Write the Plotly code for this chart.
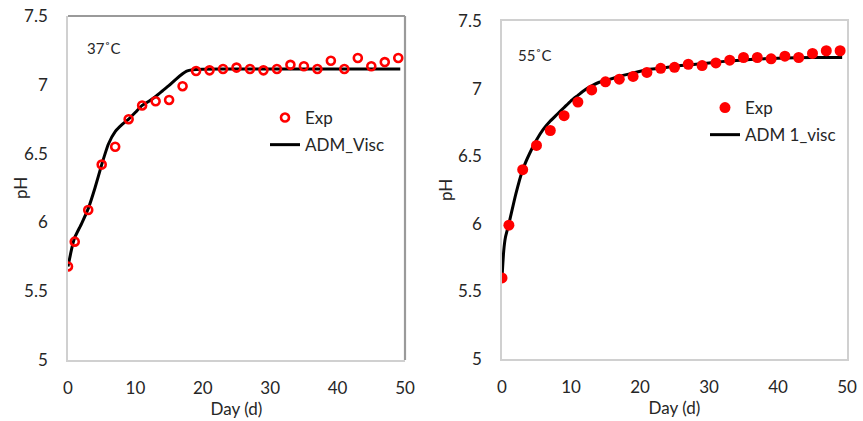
import plotly.graph_objects as go

# ---------------- data ----------------
exp_days = [0, 1, 3, 5, 7, 9, 11, 13, 15, 17, 19, 21, 23, 25, 27, 29, 31, 33, 35, 37, 39, 41, 43, 45, 47, 49]

ph37_exp = [5.68, 5.86, 6.09, 6.42, 6.55, 6.75, 6.85, 6.88, 6.89, 6.99, 7.10, 7.105, 7.115, 7.125, 7.115,
            7.105, 7.115, 7.145, 7.135, 7.115, 7.175, 7.115, 7.195, 7.135, 7.165, 7.195]

model37_days = [0, 0.6, 1, 2, 3, 4, 5, 6, 7, 8, 9, 10, 11, 12, 13, 14, 15, 16, 17, 17.6, 18.5, 20, 25, 30, 35, 40, 45, 49.3]
ph37_model = [5.68, 5.82, 5.89, 5.99, 6.10, 6.25, 6.42, 6.57, 6.66, 6.71, 6.75, 6.80, 6.85, 6.88, 6.915, 6.955,
              6.995, 7.04, 7.08, 7.10, 7.11, 7.113, 7.115, 7.115, 7.115, 7.115, 7.115, 7.115]

ph55_exp = [5.60, 5.99, 6.40, 6.58, 6.69, 6.80, 6.90, 6.99, 7.05, 7.07, 7.09, 7.12, 7.15, 7.157, 7.18,
            7.17, 7.19, 7.21, 7.23, 7.23, 7.22, 7.24, 7.23, 7.26, 7.28, 7.28]

model55_days = [0, 0.25, 0.5, 1, 2, 3, 4, 5, 6, 7, 8, 9, 10, 11, 12, 13, 14, 15, 17, 19, 21, 23, 25, 27, 30,
                33, 36, 40, 45, 49.3]
ph55_model = [5.60, 5.80, 5.90, 6.00, 6.22, 6.40, 6.52, 6.62, 6.70, 6.76, 6.81, 6.86, 6.91, 6.95, 6.99,
              7.02, 7.045, 7.06, 7.09, 7.115, 7.14, 7.15, 7.165, 7.175, 7.19, 7.205, 7.215, 7.225, 7.23, 7.23]

x_ticks = [0, 10, 20, 30, 40, 50]
y_ticks = [5, 5.5, 6, 6.5, 7, 7.5]
y_tick_text = ["5", "5.5", "6", "6.5", "7", "7.5"]

FONT = "Lato"
TXT = "#262626"
LIGHT = "#D0D0D0"
DARK = "#9A9A9A"
W, H = 863, 421


def px(xr):
    return xr / W


def py(yr):
    return 1 - yr / H


fig = go.Figure()

fig.add_trace(go.Scatter(x=model37_days, y=ph37_model, mode="lines", name="ADM_Visc",
                         line=dict(color="black", width=3, shape="spline", smoothing=0.5),
                         xaxis="x", yaxis="y", legend="legend", legendgroup="b", legendrank=2))
fig.add_trace(go.Scatter(x=exp_days, y=ph37_exp, mode="markers", name="Exp",
                         marker=dict(symbol="circle-open", size=8, color="#FF0000",
                                     line=dict(width=2.6, color="#FF0000")),
                         xaxis="x", yaxis="y", legend="legend", legendgroup="a", legendrank=1))

fig.add_trace(go.Scatter(x=model55_days, y=ph55_model, mode="lines", name="ADM 1_visc",
                         line=dict(color="black", width=3, shape="spline", smoothing=0.5),
                         xaxis="x2", yaxis="y2", legend="legend2", legendgroup="d", legendrank=2))
fig.add_trace(go.Scatter(x=exp_days, y=ph55_exp, mode="markers", name="Exp",
                         marker=dict(symbol="circle", size=11, color="#FF0000"),
                         xaxis="x2", yaxis="y2", legend="legend2", legendgroup="c", legendrank=1))

base = dict(showgrid=False, zeroline=False, showline=True, linecolor=LIGHT, linewidth=1.5,
            automargin=False, ticklabeloverflow="allow", tickcolor="rgba(0,0,0,0)", ticks="outside",
            tickfont=dict(family=FONT, size=17, color=TXT))
xaxis_common = dict(base, ticklen=12)
yaxis_common = dict(base, ticklen=15)

fig.update_layout(
    width=W, height=H,
    margin=dict(l=0, r=0, t=0, b=0),
    paper_bgcolor="white", plot_bgcolor="white",
    font=dict(family=FONT, color=TXT),
    xaxis=dict(domain=[px(68), px(405)], range=[0, 50], tickvals=x_ticks, anchor="y", mirror=False,
               title=dict(text="Day (d)", font=dict(family=FONT, size=17), standoff=6), **xaxis_common),
    yaxis=dict(domain=[py(360), py(16)], range=[5, 7.5], tickvals=y_ticks, mirror=False,
               ticktext=y_tick_text, anchor="x", **yaxis_common),
    xaxis2=dict(domain=[px(502), px(847)], range=[0, 50], tickvals=x_ticks, anchor="y2", mirror=True,
                title=dict(text="Day (d)", font=dict(family=FONT, size=17), standoff=6), **xaxis_common),
    yaxis2=dict(domain=[py(359), py(21)], range=[5, 7.5], tickvals=y_ticks, mirror=True,
                ticktext=y_tick_text, anchor="x2", **yaxis_common),
    legend=dict(x=px(265), y=py(100), xanchor="left", yanchor="top", bgcolor="rgba(0,0,0,0)",
                font=dict(family=FONT, size=17, color=TXT), tracegroupgap=2),
    legend2=dict(x=px(705), y=py(90), xanchor="left", yanchor="top", bgcolor="rgba(0,0,0,0)",
                 font=dict(family=FONT, size=17, color=TXT), tracegroupgap=2),
    shapes=[
        dict(type="line", xref="x domain", yref="y domain", x0=0, x1=1, y0=1, y1=1,
             line=dict(color=DARK, width=2.2), layer="above"),
        dict(type="line", xref="x domain", yref="y domain", x0=1, x1=1, y0=0, y1=1,
             line=dict(color=DARK, width=2.2), layer="above"),
    ],
    annotations=[
        dict(text="37˚C", x=px(85), y=py(48), xref="paper", yref="paper", xanchor="left",
             yanchor="middle", showarrow=False, font=dict(family=FONT, size=15, color=TXT)),
        dict(text="55˚C", x=px(516), y=py(55), xref="paper", yref="paper", xanchor="left",
             yanchor="middle", showarrow=False, font=dict(family=FONT, size=15, color=TXT)),
        dict(text="pH", x=px(21), y=py(188), xref="paper", yref="paper", xanchor="center",
             yanchor="middle", textangle=-90, showarrow=False, font=dict(family=FONT, size=17, color=TXT)),
        dict(text="pH", x=px(446), y=py(190), xref="paper", yref="paper", xanchor="center",
             yanchor="middle", textangle=-90, showarrow=False, font=dict(family=FONT, size=17, color=TXT)),
    ],
)

# remove the default page margin so the 863x421 figure fills the window exactly
fig.write_html("out.html", config={"displayModeBar": False},
               post_script="document.body.style.margin='0';document.body.style.overflow='hidden';")
